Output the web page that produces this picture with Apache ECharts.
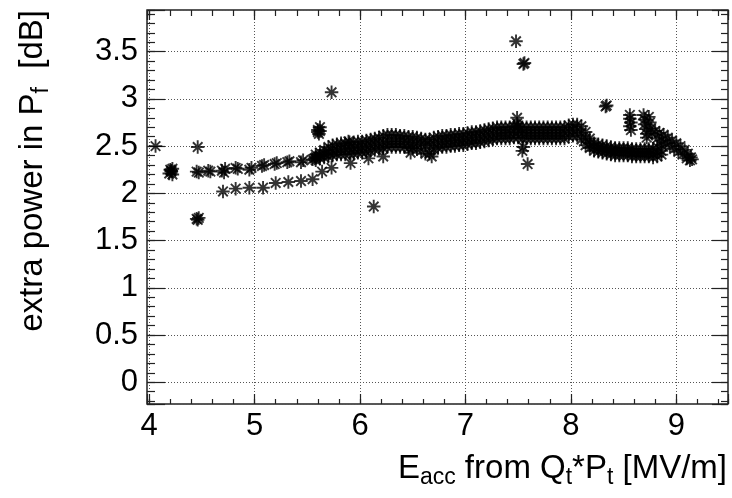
<!DOCTYPE html>
<html>
<head>
<meta charset="utf-8">
<script src="https://cdn.jsdelivr.net/npm/echarts@6.0.0/dist/echarts.min.js"></script>
<style>
html, body { margin: 0; padding: 0; background: #fff; }
#chart { width: 732px; height: 498px; }
</style>
</head>
<body>
<div id="chart"></div>
<script>
// isolated points and small clusters
var outlierX = [4.06, 4.46, 4.45, 4.47, 4.46,
	4.19, 4.20, 4.21, 4.22, 4.22, 4.21,
	5.73, 5.60, 5.61, 5.62, 5.60, 5.62,
	6.13, 5.89,
	7.48, 7.55, 7.56, 7.59, 7.55, 7.54,
	8.33, 8.34, 7.49, 7.49, 7.50,
	8.56, 8.56, 8.57, 8.56, 8.57];
var outlierY = [2.50, 2.49, 1.73, 1.74, 1.72,
	2.21, 2.25, 2.23, 2.20, 2.26, 2.24,
	3.07, 2.67, 2.63, 2.70, 2.65, 2.66,
	1.86, 2.55,
	3.61, 3.37, 3.38, 2.31, 2.49, 2.45,
	2.92, 2.93, 2.80, 2.74, 2.70,
	2.83, 2.79, 2.75, 2.71, 2.67];

// upper discrete row (bold, doubled points)
var upperX = [4.45, 4.47, 4.56, 4.58, 4.69, 4.71, 4.72, 4.82, 4.84, 4.95, 4.97, 5.07, 5.09, 5.19, 5.21, 5.31, 5.33, 5.44, 5.46, 5.55, 5.57];
var upperY = [2.23, 2.22, 2.24, 2.23, 2.24, 2.22, 2.26, 2.27, 2.26, 2.25, 2.27, 2.29, 2.30, 2.31, 2.32, 2.33, 2.34, 2.33, 2.35, 2.36, 2.37];

// lower discrete row
var lowerX = [4.70, 4.82, 4.95, 5.08, 5.20, 5.32, 5.44, 5.55, 5.64, 5.73, 5.91, 6.08, 6.22, 6.48, 6.68];
var lowerY = [2.02, 2.05, 2.06, 2.06, 2.11, 2.12, 2.13, 2.15, 2.23, 2.27, 2.32, 2.37, 2.39, 2.43, 2.39];

// dense band: x positions and the top / middle / bottom of the band
var bandX = [5.58, 5.62, 5.66, 5.70, 5.74, 5.78, 5.82, 5.86, 5.90, 5.94,
	5.98, 6.02, 6.06, 6.10, 6.14, 6.18, 6.22, 6.26, 6.30, 6.34,
	6.38, 6.42, 6.46, 6.50, 6.54, 6.58, 6.62, 6.66, 6.70, 6.74,
	6.78, 6.82, 6.86, 6.90, 6.94, 6.98, 7.02, 7.06, 7.10, 7.14,
	7.18, 7.22, 7.26, 7.30, 7.34, 7.38, 7.42, 7.46, 7.50, 7.54,
	7.58, 7.62, 7.66, 7.70, 7.74, 7.78, 7.82, 7.86, 7.90, 7.94,
	7.98, 8.02, 8.06, 8.10, 8.14, 8.18, 8.22, 8.26, 8.30, 8.34,
	8.38, 8.42, 8.46, 8.50, 8.54, 8.58, 8.62, 8.66, 8.70, 8.74,
	8.78, 8.82, 8.86];
var bandTop = [2.41, 2.43, 2.46, 2.49, 2.51, 2.52, 2.53, 2.53, 2.54, 2.54,
	2.55, 2.55, 2.56, 2.57, 2.58, 2.59, 2.61, 2.62, 2.62, 2.62,
	2.61, 2.61, 2.60, 2.60, 2.59, 2.58, 2.57, 2.57, 2.59, 2.60,
	2.61, 2.61, 2.62, 2.62, 2.63, 2.63, 2.64, 2.65, 2.65, 2.66,
	2.67, 2.68, 2.69, 2.70, 2.70, 2.70, 2.70, 2.71, 2.71, 2.70,
	2.70, 2.70, 2.70, 2.70, 2.70, 2.70, 2.70, 2.70, 2.70, 2.70,
	2.72, 2.73, 2.73, 2.71, 2.65, 2.58, 2.53, 2.52, 2.51, 2.50,
	2.49, 2.48, 2.48, 2.48, 2.48, 2.47, 2.47, 2.47, 2.47, 2.47,
	2.47, 2.49, 2.51];
var bandMid = [2.38, 2.40, 2.42, 2.44, 2.45, 2.46, 2.47, 2.47, 2.48, 2.48,
	2.49, 2.49, 2.50, 2.51, 2.52, 2.53, 2.54, 2.55, 2.55, 2.55,
	2.55, 2.55, 2.54, 2.54, 2.53, 2.52, 2.51, 2.51, 2.53, 2.54,
	2.55, 2.55, 2.56, 2.56, 2.57, 2.57, 2.58, 2.59, 2.59, 2.60,
	2.61, 2.62, 2.63, 2.64, 2.64, 2.64, 2.64, 2.65, 2.65, 2.64,
	2.64, 2.64, 2.64, 2.64, 2.64, 2.64, 2.64, 2.64, 2.64, 2.64,
	2.66, 2.67, 2.67, 2.64, 2.58, 2.53, 2.49, 2.48, 2.47, 2.46,
	2.45, 2.44, 2.44, 2.44, 2.44, 2.43, 2.43, 2.43, 2.43, 2.43,
	2.42, 2.43, 2.45];
var bandLow = [2.35, 2.37, 2.38, 2.39, 2.40, 2.41, 2.41, 2.41, 2.42, 2.42,
	2.43, 2.43, 2.44, 2.45, 2.46, 2.47, 2.48, 2.49, 2.49, 2.49,
	2.49, 2.49, 2.48, 2.48, 2.47, 2.45, 2.42, 2.42, 2.47, 2.48,
	2.49, 2.49, 2.50, 2.50, 2.51, 2.51, 2.52, 2.53, 2.53, 2.54,
	2.55, 2.56, 2.57, 2.58, 2.58, 2.58, 2.58, 2.59, 2.59, 2.58,
	2.58, 2.58, 2.58, 2.58, 2.58, 2.58, 2.58, 2.58, 2.58, 2.58,
	2.60, 2.61, 2.61, 2.57, 2.51, 2.48, 2.45, 2.44, 2.43, 2.42,
	2.41, 2.40, 2.40, 2.40, 2.40, 2.39, 2.39, 2.39, 2.39, 2.39,
	2.38, 2.39, 2.41];

// the arm / shoulder at the high-field end
var armX = [8.69, 8.70, 8.70, 8.71, 8.72, 8.72, 8.74, 8.75, 8.76, 8.77,
	8.80, 8.84, 8.88, 8.92, 8.96, 9.00, 9.04, 9.08, 9.11, 9.14,
	8.82, 8.86, 8.90, 8.94, 8.98, 9.02, 9.06, 9.10, 9.13, 9.15];
var armY = [2.83, 2.78, 2.73, 2.68, 2.63, 2.59, 2.81, 2.75, 2.69, 2.63,
	2.66, 2.64, 2.62, 2.59, 2.56, 2.53, 2.50, 2.46, 2.42, 2.38,
	2.58, 2.56, 2.53, 2.50, 2.47, 2.44, 2.41, 2.37, 2.35, 2.36];

var X_MIN = 3.979, X_MAX = 9.491;
var Y_MIN = -0.23, Y_MAX = 3.941;
var FONT = '"Liberation Sans", Arial, Helvetica, sans-serif';
var STAR = 'path://M0,5L10,5M5,0L5,10M1.46,1.46L8.54,8.54M1.46,8.54L8.54,1.46';

function pairs(xs, ys) {
	return xs.map(function (x, i) { return [x, ys[i]]; });
}
var points = [].concat(
	pairs(outlierX, outlierY),
	pairs(upperX, upperY),
	pairs(lowerX, lowerY),
	pairs(bandX, bandTop),
	pairs(bandX, bandMid),
	pairs(bandX, bandLow),
	pairs(armX, armY)
);

function onStep(step) {
	return function (v) {
		return Math.abs(v / step - Math.round(v / step)) < 1e-6 ? String(+v.toFixed(2)) : '';
	};
}
var tickStyle = { color: '#222', width: 1.2 };
var gridDots = { show: true, lineStyle: { type: [1, 2], color: '#555', width: 1 } };

function xAxisDef(pos, split, len, main) {
	return {
		type: 'value', position: pos, min: X_MIN, max: X_MAX, splitNumber: split,
		axisLine: { show: false, onZero: false },
		axisTick: { show: true, inside: true, length: len, lineStyle: tickStyle },
		axisLabel: main && pos === 'bottom' ?
			{ show: true, margin: 7, fontSize: 31, fontFamily: FONT, color: '#000', formatter: onStep(1) } :
			{ show: false },
		splitLine: main && pos === 'bottom' ? gridDots : { show: false }
	};
}
function yAxisDef(pos, split, len, main) {
	return {
		type: 'value', position: pos, min: Y_MIN, max: Y_MAX, splitNumber: split,
		axisLine: { show: false, onZero: false },
		axisTick: { show: true, inside: true, length: len, lineStyle: tickStyle },
		axisLabel: main && pos === 'left' ?
			{ show: true, margin: 9, fontSize: 31, fontFamily: FONT, color: '#000', formatter: onStep(0.5) } :
			{ show: false },
		splitLine: main && pos === 'left' ? gridDots : { show: false }
	};
}

var subStyle = { fontSize: 23, fontFamily: FONT, fill: '#000', lineHeight: 20, verticalAlign: 'bottom' };

var chart = echarts.init(document.getElementById('chart'), null, { renderer: 'canvas' });
var option = {
	backgroundColor: '#fff',
	animation: false,
	grid: {
		left: 147, right: 4, top: 10, bottom: 94,
		show: true, borderColor: '#222', borderWidth: 1.5, backgroundColor: 'transparent'
	},
	xAxis: [
		xAxisDef('bottom', 5, 10, true),
		xAxisDef('bottom', 27, 5, false),
		xAxisDef('top', 5, 10, true),
		xAxisDef('top', 27, 6, false)
	],
	yAxis: [
		yAxisDef('left', 8, 18, true),
		yAxisDef('left', 40, 8, false),
		yAxisDef('right', 8, 16, true),
		yAxisDef('right', 40, 7, false)
	],
	series: [{
		type: 'scatter',
		xAxisIndex: 0,
		yAxisIndex: 0,
		symbol: STAR,
		symbolSize: 13.5,
		itemStyle: { color: 'transparent', borderColor: '#000', borderWidth: 1.9 },
		data: points
	}],
	graphic: [
		{
			type: 'text', x: 727, y: 469,
			style: {
				text: 'E{sub|acc} from Q{sub|t}*P{sub|t} [MV/m]',
				align: 'right', verticalAlign: 'middle',
				fontSize: 33, fontFamily: FONT, fill: '#000', lineHeight: 40,
				rich: { sub: subStyle }
			}
		},
		{
			type: 'text', x: 33, y: 10, rotation: Math.PI / 2,
			style: {
				text: 'extra power in P{sub|f}  [dB]',
				align: 'right', verticalAlign: 'middle',
				fontSize: 33, fontFamily: FONT, fill: '#000', lineHeight: 40,
				rich: { sub: subStyle }
			}
		}
	]
};
chart.setOption(option);
window.onresize = function () {
	chart.resize();
};
</script>
</body>
</html>
